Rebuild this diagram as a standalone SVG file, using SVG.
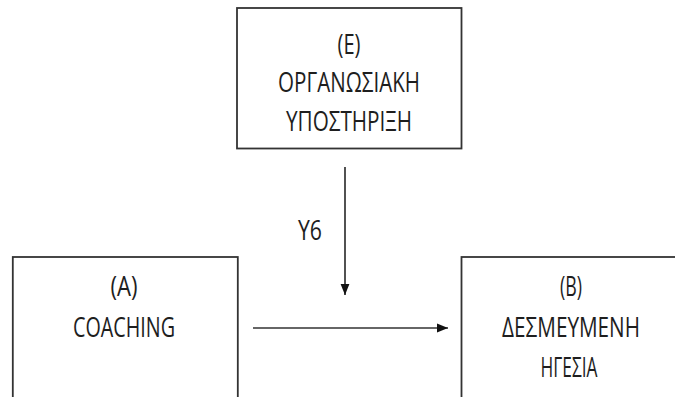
<svg xmlns="http://www.w3.org/2000/svg" width="675" height="397" viewBox="0 0 675 397">
  <style>
    .box { fill: #ffffff; stroke: #333333; stroke-width: 1.8; }
    .lbl { font-family: "Open Sans", "Liberation Sans", sans-serif; font-size: 28px; fill: #1e1e1e; text-anchor: middle; }
    .conn { stroke: #333333; stroke-width: 1.7; fill: none; }
  </style>
  <defs>
    <marker id="arrow" viewBox="0 0 10 10" refX="10" refY="5" markerWidth="11" markerHeight="11" markerUnits="userSpaceOnUse" orient="auto">
      <path d="M0,1 L10,5 L0,9 Z" fill="#111111"/>
    </marker>
  </defs>
  <rect width="675" height="397" fill="#ffffff"/>

  <g id="node-E">
    <rect class="box" x="237" y="8" width="224.5" height="140.5"/>
    <text class="lbl" x="349" y="54" textLength="23" lengthAdjust="spacingAndGlyphs">(E)</text>
    <text class="lbl" x="349" y="92" textLength="142" lengthAdjust="spacingAndGlyphs">ΟΡΓΑΝΩΣΙΑΚΗ</text>
    <text class="lbl" x="349" y="131" textLength="126" lengthAdjust="spacingAndGlyphs">ΥΠΟΣΤΗΡΙΞΗ</text>
  </g>

  <g id="node-A">
    <rect class="box" x="12.8" y="257" width="225" height="160"/>
    <text class="lbl" x="124" y="296" textLength="27" lengthAdjust="spacingAndGlyphs">(A)</text>
    <text class="lbl" x="124" y="337" textLength="102" lengthAdjust="spacingAndGlyphs">COACHING</text>
  </g>

  <g id="node-B">
    <rect class="box" x="461.5" y="257" width="230" height="160"/>
    <text class="lbl" x="571" y="296" textLength="22" lengthAdjust="spacingAndGlyphs">(B)</text>
    <text class="lbl" x="571" y="337" textLength="138" lengthAdjust="spacingAndGlyphs">ΔΕΣΜΕΥΜΕΝΗ</text>
    <text class="lbl" x="569" y="377" textLength="57" lengthAdjust="spacingAndGlyphs">ΗΓΕΣΙΑ</text>
  </g>

  <g id="connectors">
    <line class="conn" x1="345" y1="167" x2="345" y2="295" marker-end="url(#arrow)"/>
    <text class="lbl" x="310" y="240" textLength="24" lengthAdjust="spacingAndGlyphs">Y6</text>
    <line class="conn" x1="253" y1="328" x2="448" y2="328" marker-end="url(#arrow)"/>
  </g>
</svg>
